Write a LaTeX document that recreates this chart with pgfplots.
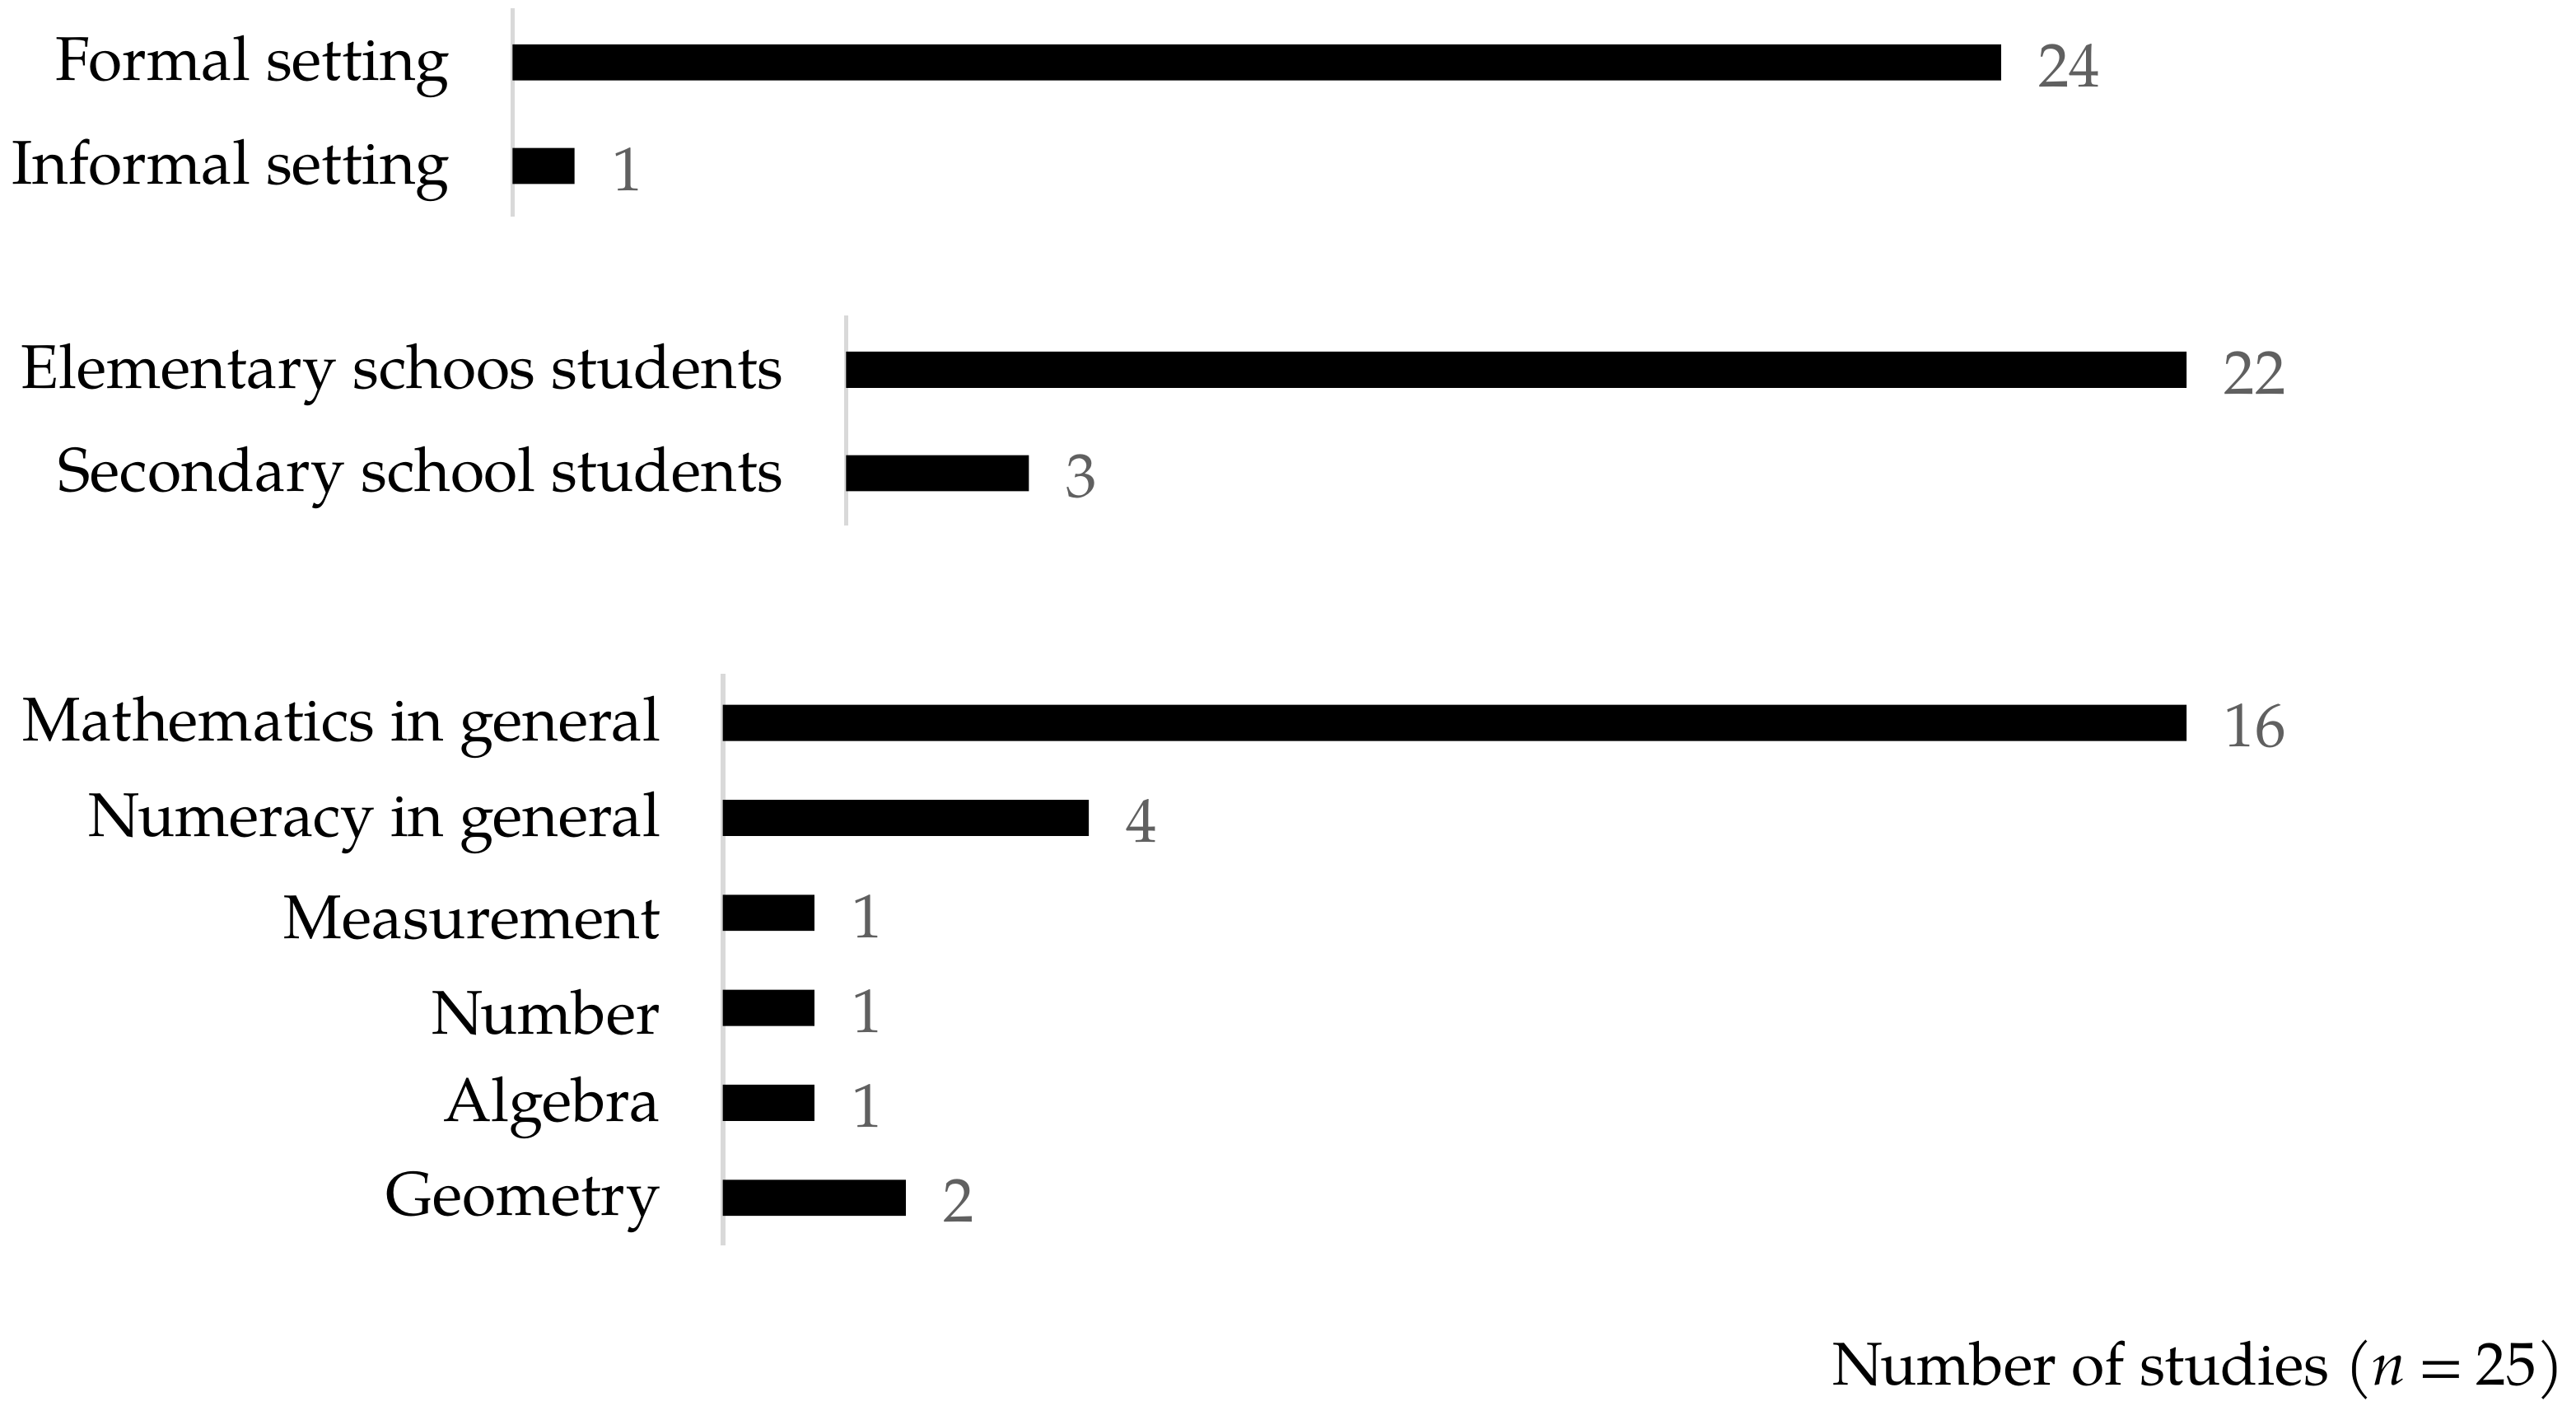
\documentclass[border=0pt]{standalone}
\usepackage{fontspec}
\setmainfont{TeX Gyre Pagella}
\usepackage{pgfplots}
\pgfplotsset{compat=1.18}

\definecolor{valgray}{HTML}{606060}
\definecolor{linegray}{HTML}{D9D9D9}

\newcommand{\chartfont}{\fontsize{9.4}{11}\selectfont}

\pgfplotsset{
  studybars/.style={
    xbar,
    scale only axis,
    anchor=south west,
    bar width=5.5pt,
    xmin=0,
    enlargelimits=false,
    clip=false,
    axis x line=none,
    axis y line=left,
    y axis line style={-, draw=linegray, line width=0.7pt},
    ytick style={draw=none},
    major tick length=0pt,
    yticklabel style={font=\chartfont, anchor=east, inner sep=0pt, xshift=-9.3pt, yshift=-0.7pt},
    /pgf/number format/assume math mode=true,
    nodes near coords,
    nodes near coords style={font=\chartfont, text=valgray, anchor=west, inner sep=0pt, xshift=5.5pt, yshift=-0.5pt},
  },
}

\begin{document}
\chartfont
\begin{tikzpicture}
\path[use as bounding box] (0,0) rectangle (392pt,216pt);

% setting
\begin{axis}[studybars,
  at={(78pt,183pt)}, width=226.5pt, height=31.75pt,
  xmax=24, ymin=0.508, ymax=2.524,
  ytick={1,2}, yticklabels={Informal setting, Formal setting}]
\addplot[fill=black, draw=none] coordinates {(1,1) (24,2)};
\end{axis}

% students
\begin{axis}[studybars,
  at={(128.75pt,136pt)}, width=204pt, height=32pt,
  xmax=22, ymin=0.492, ymax=2.524,
  ytick={1,2}, yticklabels={Secondary school students, Elementary schoos students}]
\addplot[fill=black, draw=none] coordinates {(3,1) (22,2)};
\end{axis}

% content
\begin{axis}[studybars,
  at={(110pt,26.5pt)}, width=222.75pt, height=87pt,
  xmax=16, ymin=0.498, ymax=6.519,
  ytick={1,2,3,4,5,6},
  yticklabels={Geometry, Algebra, Number, Measurement, Numeracy in general, Mathematics in general}]
\addplot[fill=black, draw=none] coordinates {(2,1) (1,2) (1,3) (1,4) (4,5) (16,6)};
\end{axis}

\node[anchor=base east, inner sep=0pt, font=\fontsize{9.2}{11}\selectfont] at (390.4pt,5.25pt) {Number of studies (\textit{n}\hspace{0.2em}=\hspace{0.2em}25)};
\end{tikzpicture}
\end{document}
